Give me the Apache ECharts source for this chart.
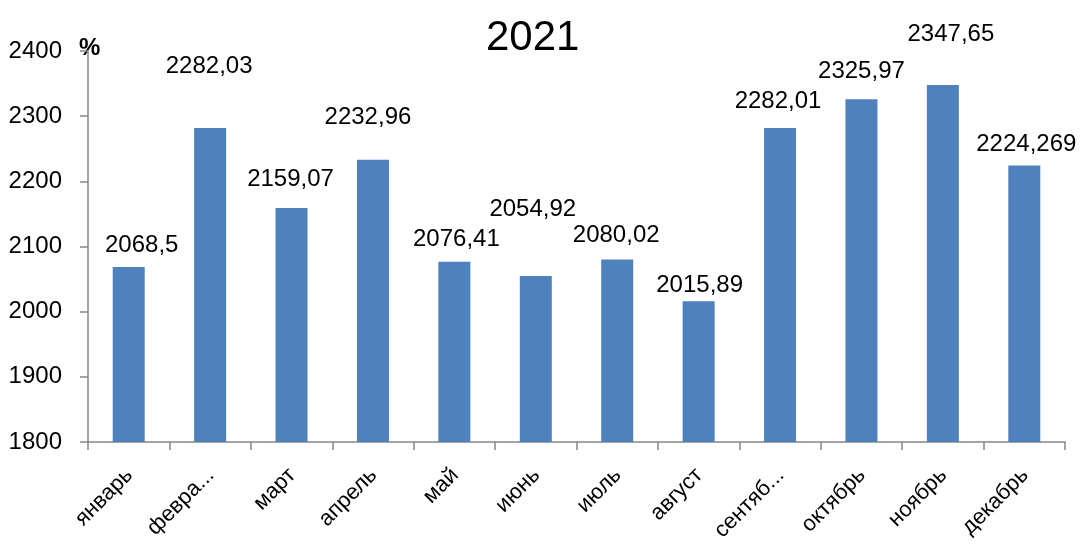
<!DOCTYPE html>
<html>
<head>
<meta charset="utf-8">
<script src="https://cdn.jsdelivr.net/npm/echarts@6/dist/echarts.min.js"></script>
<style>
html,body{margin:0;padding:0;background:#fff;overflow:hidden;}
#chart{width:1084px;height:545px;}
</style>
</head>
<body>
<div id="chart"></div>
<script>
const titleText = '2021';
const unitText = '%';
const categories = ['январь','февра...','март','апрель','май','июнь','июль','август','сентяб...','октябрь','ноябрь','декабрь'];
const values = [2068.5, 2282.03, 2159.07, 2232.96, 2076.41, 2054.92, 2080.02, 2015.89, 2282.01, 2325.97, 2347.65, 2224.269];
const valueLabels = ['2068,5','2282,03','2159,07','2232,96','2076,41','2054,92','2080,02','2015,89','2282,01','2325,97','2347,65','2224,269'];
const yTicks = [1800, 1900, 2000, 2100, 2200, 2300, 2400];

// label placement tweaks (style only)
const labelOffsets = [[13,-5],[-1,-45],[-1,-12],[-5,-25],[2,-5],[-3,-50],[-1,-7],[1,1],[-2,-10],[0,-11],[8,-34],[2,-4]];

const FONT = 'Liberation Sans';
const chart = echarts.init(document.getElementById('chart'), null, {renderer:'canvas', width:1084, height:545});
chart.setOption({
  animation: false,
  backgroundColor: '#ffffff',
  title: {
    text: titleText, left: 481, top: 12,
    textStyle: {fontFamily: FONT, fontSize: 42, fontWeight: 'normal', color: '#000'}
  },
  graphic: [{
    type: 'text', left: 79, top: 36,
    style: {text: unitText, fontFamily: FONT, fontSize: 24, fontWeight: 'bold', fill: '#000'}
  }],
  grid: {left: 88, right: 19, top: 51, bottom: 103, containLabel: false, outerBoundsMode: 'none'},
  xAxis: {
    type: 'category', data: categories,
    axisLine: {lineStyle: {color: '#868686', width: 1.5}},
    axisTick: {show: true, alignWithLabel: false, length: 8, lineStyle: {color: '#868686', width: 1.5}},
    axisLabel: {
      rotate: 45, interval: 0, margin: 15, verticalAlign: 'top', padding: [0, 10, 0, 0],
      fontFamily: FONT, fontSize: 22, color: '#000'
    }
  },
  yAxis: {
    type: 'value', min: yTicks[0], max: yTicks[yTicks.length-1], interval: yTicks[1]-yTicks[0],
    splitLine: {show: false},
    axisLine: {show: true, lineStyle: {color: '#868686', width: 1.5}},
    axisTick: {show: true, length: 8, lineStyle: {color: '#868686', width: 1.5}},
    axisLabel: {margin: 26, fontFamily: FONT, fontSize: 24, color: '#000', formatter: v => String(v)}
  },
  series: [{
    type: 'bar',
    barWidth: 32,
    itemStyle: {color: '#4F81BD'},
    data: values.map((v, i) => ({
      value: v,
      label: {
        show: true, position: 'top', distance: 5,
        offset: labelOffsets[i],
        formatter: valueLabels[i],
        fontFamily: FONT, fontSize: 24, color: '#000'
      }
    }))
  }]
});
</script>
</body>
</html>
